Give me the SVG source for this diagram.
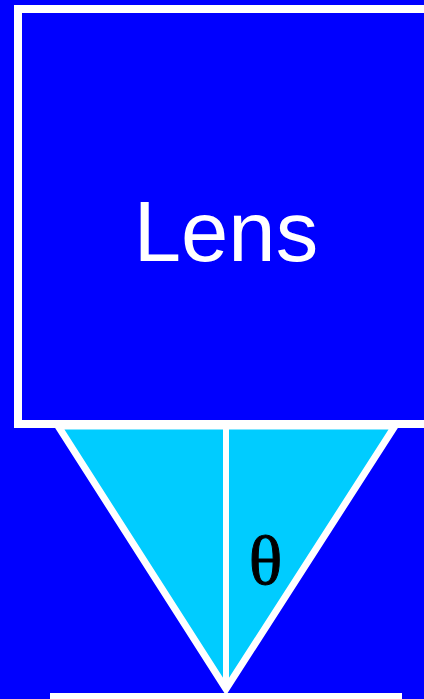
<svg xmlns="http://www.w3.org/2000/svg" width="424" height="699" viewBox="0 0 424 699">
<style>
.lbl{font-family:"Liberation Sans",Arial,sans-serif;fill:#fff}
.sym{font-family:"Liberation Serif","Times New Roman",serif;fill:#000}
</style>
<rect x="0" y="0" width="424" height="699" fill="#0000ff"/>
<g id="lens">
<rect x="18" y="9" width="420" height="415" fill="#0000ff" stroke="#fff" stroke-width="8"/>
<text class="lbl" x="226" y="261" font-size="85" text-anchor="middle">Lens</text>
</g>
<g id="cone">
<polygon points="58,426 395,426 226,689" fill="#00ccff" stroke="#fff" stroke-width="7" stroke-linejoin="miter"/>
<text class="sym" x="265.5" y="584" font-size="70" text-anchor="middle" stroke="#000" stroke-width="1">θ</text>
</g>
<g id="connectors">
<line x1="226" y1="426" x2="226" y2="689" stroke="#fff" stroke-width="6"/>
</g>
<rect id="base" x="50" y="693" width="352" height="6" fill="#fff"/>
</svg>
